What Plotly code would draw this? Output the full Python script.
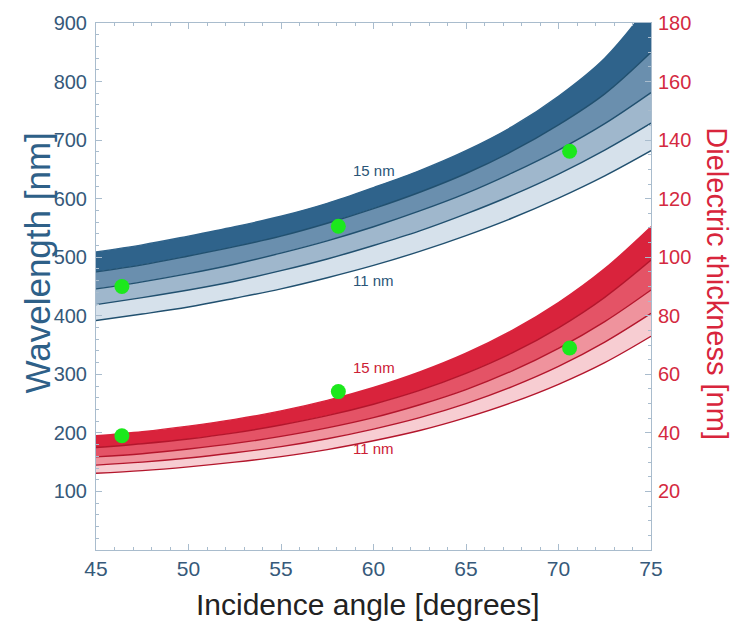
import plotly.graph_objects as go

# Incidence angle grid (degrees)
angle = [45, 47.5, 50, 52.5, 55, 57.5, 60, 62.5, 65, 67.5, 70, 72.5, 75]

# Resonance wavelength (nm) for metal thickness 11..15 nm
wl_11 = [392, 403, 415, 430, 446, 465, 486, 510, 537, 567, 601, 639, 682]
wl_12 = [419, 431, 444, 459, 477, 497, 520, 545, 574, 606, 642, 683, 729]
wl_13 = [446, 458, 472, 488, 507, 528, 552, 579, 609, 644, 683, 728, 781]
wl_14 = [475, 487, 502, 518, 536, 558, 583, 611, 643, 681, 726, 779, 850]
wl_15 = [509, 521, 536, 552, 570, 592, 619, 648, 682, 723, 775, 840, 935]

# Dielectric thickness (nm) for metal thickness 11..15 nm
dt_11 = [26.2, 27.1, 28.4, 30.0, 31.9, 34.3, 37.3, 40.8, 45.2, 50.4, 56.6, 64.0, 73.0]
dt_12 = [29.0, 30.0, 31.4, 33.2, 35.3, 38.0, 41.3, 45.2, 50.0, 55.8, 62.7, 71.0, 80.8]
dt_13 = [31.8, 32.9, 34.5, 36.4, 38.8, 41.7, 45.2, 49.6, 54.8, 61.2, 68.9, 78.0, 88.8]
dt_14 = [35.0, 36.3, 37.9, 40.0, 42.7, 45.9, 49.8, 54.5, 60.3, 67.3, 75.9, 86.3, 99.0]
dt_15 = [39.0, 40.4, 42.3, 44.6, 47.5, 51.1, 55.5, 60.8, 67.2, 75.0, 84.5, 96.1, 110.4]

# Measured samples
meas_angle = [46.4, 58.1, 70.6]
meas_wl = [450, 553, 681]
meas_dt = [39.0, 54.1, 69.0]

left_ticks = [100, 200, 300, 400, 500, 600, 700, 800, 900]
right_ticks = [20, 40, 60, 80, 100, 120, 140, 160, 180]
x_ticks = [45, 50, 55, 60, 65, 70, 75]

blue_fill = ["#d6e1eb", "#9fb7cc", "#6a8fae", "#2f638b"]
blue_line = "#21506f"
red_fill = ["#f7cdd2", "#ef939d", "#e45366", "#d9233c"]
red_line = "#b3162c"

BLUE_TXT = "#36597a"
RED_TXT = "#d42a3f"
AXIS_LINE = "#a9bccd"
FONT = "Liberation Sans, Arial, sans-serif"

fig = go.Figure()

blue_curves = [wl_11, wl_12, wl_13, wl_14, wl_15]
for i, ys in enumerate(blue_curves):
    fig.add_trace(go.Scatter(
        x=angle, y=ys, mode="lines", line_shape="spline",
        line=dict(color=blue_line if i < 4 else blue_fill[3], width=1.4),
        fill=None if i == 0 else "tonexty",
        fillcolor=None if i == 0 else blue_fill[i - 1],
        hoverinfo="skip", showlegend=False, yaxis="y"))

red_curves = [dt_11, dt_12, dt_13, dt_14, dt_15]
for i, ys in enumerate(red_curves):
    fig.add_trace(go.Scatter(
        x=angle, y=ys, mode="lines", line_shape="spline",
        line=dict(color=red_line if i < 4 else red_fill[3], width=1.4),
        fill=None if i == 0 else "tonexty",
        fillcolor=None if i == 0 else red_fill[i - 1],
        hoverinfo="skip", showlegend=False, yaxis="y2"))

fig.add_trace(go.Scatter(
    x=meas_angle, y=meas_wl, mode="markers",
    marker=dict(color="#1ce81c", size=15), showlegend=False, yaxis="y"))
fig.add_trace(go.Scatter(
    x=meas_angle, y=meas_dt, mode="markers",
    marker=dict(color="#1ce81c", size=15), showlegend=False, yaxis="y2"))

annotations = [
    dict(x=60, y=648, xref="x", yref="y", text="15 nm", showarrow=False,
         font=dict(family=FONT, size=15, color="#2a5577")),
    dict(x=60, y=460, xref="x", yref="y", text="11 nm", showarrow=False,
         font=dict(family=FONT, size=15, color="#2a5577")),
    dict(x=60, y=62.5, xref="x", yref="y2", text="15 nm", showarrow=False,
         font=dict(family=FONT, size=15, color="#cc2035")),
    dict(x=60, y=34.5, xref="x", yref="y2", text="11 nm", showarrow=False,
         font=dict(family=FONT, size=15, color="#cc2035")),
    dict(x=-0.105, y=0.545, xref="paper", yref="paper", text="Wavelength [nm]",
         xanchor="center", yanchor="middle",
         textangle=-90, showarrow=False,
         font=dict(family=FONT, size=35, color="#2e6088")),
    dict(x=1.119, y=0.506, xref="paper", yref="paper", text="Dielectric thickness [nm]",
         xanchor="center", yanchor="middle",
         textangle=90, showarrow=False,
         font=dict(family=FONT, size=29, color="#d8253c")),
    dict(x=0.49, y=-0.103, xref="paper", yref="paper", text="Incidence angle [degrees]",
         xanchor="center", yanchor="middle",
         showarrow=False, font=dict(family=FONT, size=30, color="#222222")),
]

fig.update_layout(
    width=733, height=630,
    margin=dict(l=96, r=82, t=20, b=80),
    paper_bgcolor="white", plot_bgcolor="white",
    showlegend=False,
    annotations=annotations,
    xaxis=dict(
        range=[45, 75], tickmode="array", tickvals=x_ticks,
        ticks="inside", ticklen=6, tickcolor=AXIS_LINE,
        showline=True, linecolor=AXIS_LINE, linewidth=1, mirror="ticks",
        showgrid=False, zeroline=False,
        tickfont=dict(family=FONT, size=21, color=BLUE_TXT),
        minor=dict(ticks="inside", ticklen=3, dtick=1, tick0=45, tickcolor=AXIS_LINE, showgrid=False),
    ),
    yaxis=dict(
        range=[0, 900], tickmode="array", tickvals=left_ticks,
        ticks="inside", ticklen=6, tickcolor=AXIS_LINE,
        showline=True, linecolor=AXIS_LINE, linewidth=1,
        showgrid=False, zeroline=False, ticklabelstandoff=4,
        tickfont=dict(family=FONT, size=20, color=BLUE_TXT),
        minor=dict(ticks="inside", ticklen=3, dtick=20, tick0=0, tickcolor=AXIS_LINE, showgrid=False),
    ),
    yaxis2=dict(
        range=[0, 180], overlaying="y", side="right",
        tickmode="array", tickvals=right_ticks,
        ticks="inside", ticklen=6, tickcolor=AXIS_LINE,
        showline=True, linecolor=AXIS_LINE, linewidth=1,
        showgrid=False, zeroline=False, ticklabelstandoff=2,
        tickfont=dict(family=FONT, size=20, color=RED_TXT),
        minor=dict(ticks="inside", ticklen=3, dtick=5, tick0=0, tickcolor=AXIS_LINE, showgrid=False),
    ),
)

fig.write_html("out.html")
